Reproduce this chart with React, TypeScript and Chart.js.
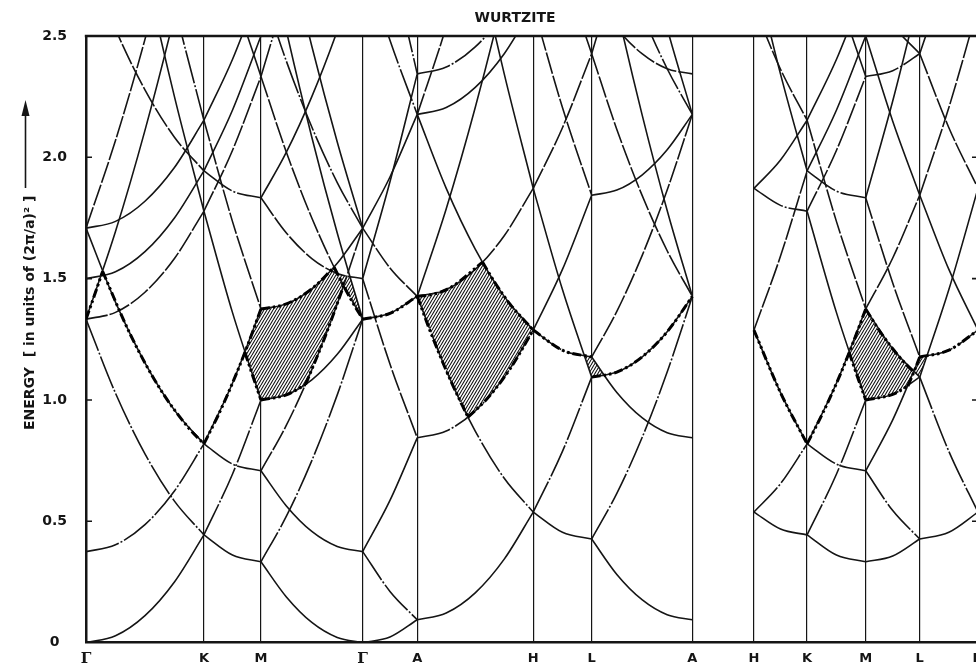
import React, { useEffect, useRef } from 'react';
import { Chart, registerables } from 'chart.js';

Chart.register(...registerables);

// ---- symmetry points along the k-path (units of 2π/a) ----
const symX = [0, 0.670, 0.994, 1.572, 1.882, 2.541, 2.873, 3.445, 3.795, 4.097, 4.430, 4.737, 5.068];
const symLabels = ['Γ', 'K', 'M', 'Γ', 'A', 'H', 'L', 'A', 'H', 'K', 'M', 'L', 'H'];
const yTickValues = [0.5, 1.0, 1.5, 2.0, 2.5];
const chartTitle = 'WURTZITE';
const yTitle = 'ENERGY  [ in units of (2π/a)² ]';

// ---- band energies, sampled at equal steps along each segment ----
const bandsGK = [
  [0, 0.028, 0.111, 0.25, 0.444],
  [1.333, 1.028, 0.778, 0.583, 0.444],
  [1.333, 1.694, 2.111, 2.583, 3.111],
  [1.333, 1.361, 1.444, 1.583, 1.778],
  [4.0, 3.361, 2.778, 2.25, 1.778],
  [0.375, 0.403, 0.486, 0.625, 0.819],
  [1.708, 1.403, 1.153, 0.958, 0.819],
  [1.708, 2.069, 2.486, 2.958, 3.486],
  [1.708, 1.736, 1.819, 1.958, 2.153],
  [4.375, 3.736, 3.153, 2.625, 2.153],
  [1.5, 1.528, 1.611, 1.75, 1.944],
  [2.833, 2.528, 2.278, 2.083, 1.944],
];
const bandsKM = [
  [0.444, 0.361, 0.333],
  [0.444, 0.694, 1.0],
  [1.778, 1.361, 1.0],
  [1.778, 2.028, 2.333],
  [3.111, 2.694, 2.333],
  [0.819, 0.736, 0.708],
  [0.819, 1.069, 1.375],
  [2.153, 1.736, 1.375],
  [2.153, 2.403, 2.708],
  [1.944, 1.861, 1.833],
  [1.944, 2.194, 2.5],
];
const bandsMG = [
  [0.333, 0.188, 0.083, 0.021, 0],
  [0.333, 0.521, 0.75, 1.021, 1.333],
  [1.0, 1.021, 1.083, 1.188, 1.333],
  [2.333, 2.021, 1.75, 1.521, 1.333],
  [3.0, 2.521, 2.083, 1.688, 1.333],
  [2.333, 2.688, 3.083, 3.521, 4.0],
  [0.708, 0.563, 0.458, 0.396, 0.375],
  [0.708, 0.896, 1.125, 1.396, 1.708],
  [1.375, 1.396, 1.458, 1.563, 1.708],
  [2.708, 2.396, 2.125, 1.896, 1.708],
  [3.375, 2.896, 2.458, 2.063, 1.708],
  [1.833, 1.688, 1.583, 1.521, 1.5],
  [1.833, 2.021, 2.25, 2.521, 2.833],
];
const bandsGA = [
  [0, 0.023, 0.094],
  [0.375, 0.211, 0.094],
  [0.375, 0.586, 0.844],
  [1.5, 1.148, 0.844],
  [1.5, 1.899, 2.344],
  [3.375, 2.836, 2.344],
  [1.333, 1.357, 1.427],
  [1.708, 1.544, 1.427],
  [1.708, 1.919, 2.177],
  [2.833, 2.482, 2.177],
];
const bandsAH = [
  [0.094, 0.122, 0.205, 0.344, 0.538],
  [1.427, 1.122, 0.872, 0.677, 0.538],
  [1.427, 1.788, 2.205, 2.677, 3.205],
  [1.427, 1.455, 1.538, 1.677, 1.872],
  [4.094, 3.455, 2.872, 2.344, 1.872],
  [0.844, 0.872, 0.955, 1.094, 1.288],
  [2.177, 1.872, 1.622, 1.427, 1.288],
  [2.177, 2.538, 2.955, 3.427, 3.955],
  [2.177, 2.205, 2.288, 2.427, 2.622],
  [2.344, 2.372, 2.455, 2.594, 2.788],
];
const bandsHL = [
  [0.538, 0.455, 0.427],
  [0.538, 0.788, 1.094],
  [1.872, 1.455, 1.094],
  [1.872, 2.122, 2.427],
  [3.205, 2.788, 2.427],
  [1.288, 1.205, 1.177],
  [1.288, 1.538, 1.844],
  [2.622, 2.205, 1.844],
];
const bandsLA = [
  [0.427, 0.281, 0.177, 0.115, 0.094],
  [0.427, 0.615, 0.844, 1.115, 1.427],
  [1.094, 1.115, 1.177, 1.281, 1.427],
  [2.427, 2.115, 1.844, 1.615, 1.427],
  [3.094, 2.615, 2.177, 1.781, 1.427],
  [2.427, 2.781, 3.177, 3.615, 4.094],
  [1.177, 1.031, 0.927, 0.865, 0.844],
  [1.177, 1.365, 1.594, 1.865, 2.177],
  [1.844, 1.865, 1.927, 2.031, 2.177],
  [3.177, 2.865, 2.594, 2.365, 2.177],
  [3.844, 3.365, 2.927, 2.531, 2.177],
  [2.677, 2.531, 2.427, 2.365, 2.344],
];
const bandsHK = [
  [0.538, 0.468, 0.444],
  [0.538, 0.655, 0.819],
  [1.288, 1.030, 0.819],
  [1.288, 1.593, 1.944],
  [2.788, 2.343, 1.944],
  [1.872, 1.802, 1.778],
  [1.872, 1.989, 2.153],
  [2.622, 2.363, 2.153],
];
const bandsML = [
  [0.333, 0.357, 0.427],
  [0.708, 0.544, 0.427],
  [0.708, 0.918, 1.177],
  [1.833, 1.482, 1.177],
  [1.833, 2.232, 2.677],
  [1.0, 1.023, 1.094],
  [1.375, 1.211, 1.094],
  [1.375, 1.585, 1.844],
  [2.5, 2.149, 1.844],
  [2.333, 2.357, 2.427],
  [2.708, 2.544, 2.427],
];
const bandsLH = [
  [0.427, 0.455, 0.538],
  [1.094, 0.788, 0.538],
  [1.094, 1.455, 1.872],
  [2.427, 2.122, 1.872],
  [2.427, 2.788, 3.205],
  [1.177, 1.205, 1.288],
  [1.844, 1.538, 1.288],
  [1.844, 2.205, 2.622],
];

// segment = [from symmetry index, to symmetry index, bands]
const segments: [number, number, number[][]][] = [
  [0, 1, bandsGK], [1, 2, bandsKM], [2, 3, bandsMG], [3, 4, bandsGA],
  [4, 5, bandsAH], [5, 6, bandsHL], [6, 7, bandsLA],
  [8, 9, bandsHK], [9, 10, bandsKM], [10, 11, bandsML], [11, 12, bandsLH],
];

// ---- heavy dotted boundary curves [k, E] ----
const boundaryCurves: number[][][] = [
  [[0, 1.333], [0.047, 1.429], [0.0942, 1.530]],
  [[0.0942, 1.530], [0.251, 1.271], [0.419, 1.048], [0.586, 0.882], [0.670, 0.819]],
  [[0.670, 0.819], [0.751, 0.937], [0.832, 1.069], [0.913, 1.215], [0.994, 1.375]],
  [[0.903, 1.196], [0.949, 1.096], [0.994, 1.0]],
  [[0.994, 1.375], [1.1385, 1.396], [1.283, 1.458], [1.4096, 1.547]],
  [[1.4096, 1.547], [1.4636, 1.47], [1.5142, 1.403], [1.572, 1.333]],
  [[0.994, 1.0], [1.1385, 1.021], [1.2469, 1.063]],
  [[1.2469, 1.063], [1.3553, 1.255], [1.4636, 1.47]],
  [[1.572, 1.333], [1.727, 1.357], [1.882, 1.427]],
  [[1.882, 1.427], [1.9809, 1.437], [2.0797, 1.467], [2.2527, 1.568]],
  [[2.2527, 1.568], [2.3301, 1.476], [2.4092, 1.395], [2.541, 1.288]],
  [[1.882, 1.427], [1.9479, 1.298], [2.0138, 1.178], [2.0797, 1.067], [2.1703, 0.929]],
  [[2.1703, 0.929], [2.2774, 1.004], [2.4092, 1.128], [2.541, 1.288]],
  [[2.541, 1.288], [2.707, 1.205], [2.873, 1.177]],
  [[2.873, 1.094], [3.016, 1.115], [3.159, 1.177], [3.302, 1.281], [3.445, 1.427]],
  [[3.795, 1.288], [3.946, 1.030], [4.097, 0.819]],
  [[4.097, 0.819], [4.180, 0.937], [4.264, 1.069], [4.347, 1.215], [4.430, 1.375]],
  [[4.336, 1.196], [4.383, 1.096], [4.430, 1.0]],
  [[4.430, 1.375], [4.5068, 1.287], [4.5835, 1.211], [4.645, 1.158], [4.7035, 1.115]],
  [[4.430, 1.0], [4.5835, 1.023], [4.6695, 1.057]],
  [[4.6695, 1.057], [4.7035, 1.115], [4.737, 1.177]],
  [[4.737, 1.177], [4.9025, 1.205], [5.068, 1.288]],
];

// ---- hatched gap regions [k, E] ----
const gapRegionM1 = [[0.903, 1.196], [0.949, 1.283], [0.994, 1.375], [1.1385, 1.396], [1.283, 1.458], [1.4096, 1.547], [1.4636, 1.47], [1.4102, 1.361], [1.3553, 1.255], [1.3003, 1.155], [1.2469, 1.063], [1.1385, 1.021], [0.994, 1.0], [0.949, 1.096], [0.903, 1.196]];
const gapRegionG2 = [[1.4275, 1.521], [1.5142, 1.403], [1.572, 1.333], [1.5142, 1.47], [1.4998, 1.505], [1.4275, 1.521]];
const gapRegionAH = [[1.882, 1.427], [1.9809, 1.437], [2.0797, 1.467], [2.2527, 1.568], [2.3301, 1.476], [2.4092, 1.395], [2.541, 1.288], [2.4092, 1.128], [2.2774, 1.004], [2.1703, 0.929], [2.0797, 1.067], [2.0138, 1.178], [1.9479, 1.298], [1.882, 1.427]];
const gapRegionL1 = [[2.8318, 1.179], [2.873, 1.177], [2.9445, 1.099], [2.873, 1.094], [2.8318, 1.179]];
const gapRegionM2 = [[4.336, 1.196], [4.383, 1.283], [4.430, 1.375], [4.5068, 1.287], [4.5835, 1.211], [4.645, 1.158], [4.7035, 1.115], [4.6695, 1.057], [4.5835, 1.023], [4.430, 1.0], [4.383, 1.096], [4.336, 1.196]];
const gapRegionL2 = [[4.7035, 1.115], [4.737, 1.177], [4.778, 1.179], [4.737, 1.094], [4.7035, 1.115]];
const gapRegions = [gapRegionM1, gapRegionG2, gapRegionAH, gapRegionL1, gapRegionM2, gapRegionL2];

const INK = '#151515';

function makeHatch(): CanvasPattern | string {
  const c = document.createElement('canvas');
  c.width = 3; c.height = 5;
  const g = c.getContext('2d');
  if (!g) return '#777';
  g.fillStyle = '#fff';
  g.fillRect(0, 0, 3, 5);
  g.strokeStyle = '#111';
  g.lineWidth = 1.1;
  g.beginPath();
  g.moveTo(-3, 5); g.lineTo(0, 0);
  g.moveTo(0, 5); g.lineTo(3, 0);
  g.moveTo(3, 5); g.lineTo(6, 0);
  g.stroke();
  return g.createPattern(c, 'repeat') || '#777';
}

const decorPlugin = {
  id: 'decor',
  afterDraw(chart: any) {
    const { ctx, chartArea: a, scales } = chart;
    const ys = scales.y;
    ctx.save();
    ctx.strokeStyle = INK;
    ctx.lineWidth = 2.5;
    ctx.beginPath();
    ctx.moveTo(a.left - 1.2, a.top);
    ctx.lineTo(a.right, a.top);
    ctx.stroke();
    ctx.lineWidth = 1.6;
    yTickValues.forEach((v) => {
      const py = ys.getPixelForValue(v);
      ctx.beginPath();
      ctx.moveTo(a.left, py); ctx.lineTo(a.left + 6, py);
      ctx.moveTo(a.right - 6, py); ctx.lineTo(a.right, py);
      ctx.stroke();
    });
    ctx.fillStyle = INK;
    ctx.font = 'bold 14px "DejaVu Sans"';
    ctx.textAlign = 'center';
    ctx.textBaseline = 'middle';
    ctx.fillText(chartTitle, 515, 18);
    ctx.save();
    ctx.translate(30, 430);
    ctx.rotate(-Math.PI / 2);
    ctx.textAlign = 'left';
    ctx.font = 'bold 14px "DejaVu Sans"';
    ctx.fillText(yTitle, 0, 0);
    ctx.restore();
    // arrow
    ctx.lineWidth = 1.6;
    ctx.beginPath();
    ctx.moveTo(25.5, 188);
    ctx.lineTo(25.5, 112);
    ctx.stroke();
    ctx.beginPath();
    ctx.moveTo(25.5, 100);
    ctx.lineTo(21.5, 116);
    ctx.lineTo(29.5, 116);
    ctx.closePath();
    ctx.fill();
    ctx.restore();
  },
};

export default function App() {
  const ref = useRef<HTMLCanvasElement | null>(null);
  useEffect(() => {
    if (!ref.current) return;
    const hatch = makeHatch();
    const datasets: any[] = [];
    const dashes = [[], [34, 2, 2, 2], [], [22, 2]];
    segments.forEach(([from, to, bands]) => {
      const x0 = symX[from];
      const x1 = symX[to];
      bands.forEach((vals, j) => {
        const n = vals.length;
        datasets.push({
          data: vals.map((e, i) => ({ x: x0 + ((x1 - x0) * i) / (n - 1), y: e })),
          borderColor: INK,
          borderWidth: 1.6,
          borderDash: dashes[j % dashes.length],
          pointRadius: 0,
          fill: false,
          cubicInterpolationMode: 'monotone',
          order: 5,
        });
      });
    });
    boundaryCurves.forEach((pts) => {
      datasets.push({
        data: pts.map(([x, y]) => ({ x, y })),
        borderColor: '#000',
        borderWidth: 3,
        borderDash: [9, 3, 2.5, 3, 2.5, 3],
        pointRadius: 0,
        fill: false,
        cubicInterpolationMode: 'monotone',
        order: 0,
      });
    });
    gapRegions.forEach((pts) => {
      datasets.push({
        data: pts.map(([x, y]) => ({ x, y })),
        borderColor: 'rgba(0,0,0,0)',
        borderWidth: 1,
        backgroundColor: hatch,
        fill: 'shape',
        tension: 0,
        pointRadius: 0,
        order: 10,
      });
    });

    const chart = new Chart(ref.current, {
      type: 'line',
      data: { datasets },
      options: {
        responsive: false,
        animation: false,
        events: [],
        layout: { padding: { top: 36, right: 22, bottom: 0, left: 0 }, autoPadding: false },
        plugins: { legend: { display: false }, tooltip: { enabled: false }, title: { display: false } },
        scales: {
          x: {
            type: 'linear',
            min: 0,
            max: symX[symX.length - 1],
            afterFit: (s: any) => { s.height = 24; },
            afterBuildTicks: (s: any) => { s.ticks = symX.map((v) => ({ value: v })); },
            grid: { display: true, color: INK, lineWidth: 1.2, drawTicks: false },
            border: { display: true, color: INK, width: 2.5 },
            ticks: {
              autoSkip: false,
              maxRotation: 0,
              padding: 8,
              color: INK,
              callback: (_v: any, i: number) => symLabels[i],
              font: (c: any) => (symLabels[c.index] === 'Γ'
                ? { family: '"DejaVu Serif"', weight: 'bold', size: 15 }
                : { family: '"DejaVu Sans"', weight: 'bold', size: 13 }),
            },
          },
          y: {
            type: 'linear',
            min: 0,
            max: 2.5,
            afterFit: (s: any) => { s.width = 86; },
            grid: { display: false, drawTicks: false },
            border: { display: true, color: INK, width: 2.5 },
            ticks: {
              stepSize: 0.5,
              padding: 19,
              crossAlign: 'center',
              color: INK,
              font: { family: '"DejaVu Sans"', weight: 'bold', size: 14 },
              callback: (v: any) => (v === 0 ? '0' : Number(v).toFixed(1)),
            },
          },
        },
      } as any,
      plugins: [decorPlugin],
    });
    return () => chart.destroy();
  }, []);

  return (
    <div style={{ position: 'fixed', left: 0, top: 0, width: 976, height: 670, overflow: 'hidden', background: '#fff' }}>
      <canvas ref={ref} width={1000} height={670} style={{ display: 'block' }} />
    </div>
  );
}
